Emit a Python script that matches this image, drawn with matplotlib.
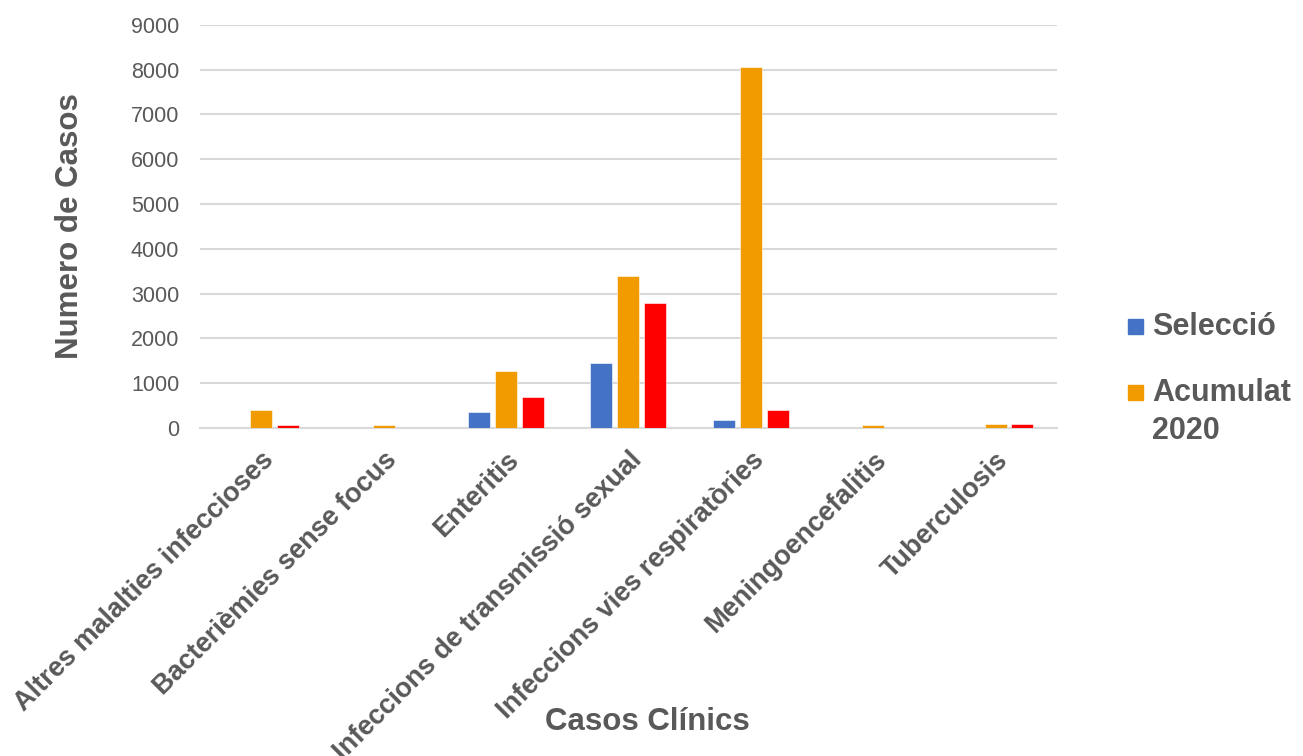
import numpy as np
import matplotlib
matplotlib.use("Agg")
import matplotlib.pyplot as plt
from matplotlib.patches import Rectangle

plt.rcParams['font.family'] = ['Liberation Sans', 'DejaVu Sans']

categories = ["Altres malalties infeccioses", "Bacterièmies sense focus", "Enteritis",
              "Infeccions de transmissió sexual", "Infeccions vies respiratòries",
              "Meningoencefalitis", "Tuberculosis"]
seleccio = [0, 0, 350, 1460, 170, 0, 0]
acumulat = [400, 60, 1260, 3390, 8060, 60, 90]
tercera = [60, 0, 690, 2790, 400, 0, 90]

series_names = ["Selecció", "Acumulat\n2020"]
colors = ["#4472C4", "#F29B00", "#FF0000"]
grey = "#595959"

fig = plt.figure(figsize=(13.03, 7.56), dpi=100)
ax = fig.add_axes([0.1535, 0.434, 0.6575, 0.533])

x = np.arange(len(categories))
w = 0.18
step = 0.22
for i, vals in enumerate([seleccio, acumulat, tercera]):
    ax.bar(x + (i - 1) * step, vals, width=w, color=colors[i],
           edgecolor="white", linewidth=0.4, zorder=3)

ax.set_xlim(-0.5, len(categories) - 0.5)
ax.set_ylim(0, 9000)
ax.set_yticks(np.arange(0, 9001, 1000))
ax.yaxis.grid(True, color="#d9d9d9", linewidth=1.5, zorder=0)
for s in ["top", "right", "left"]:
    ax.spines[s].set_visible(False)
ax.spines["bottom"].set_color("#d9d9d9")
ax.spines["bottom"].set_linewidth(1.5)
ax.tick_params(axis="y", length=0, labelsize=15.5, labelcolor=grey, pad=15)
ax.tick_params(axis="x", length=0, pad=14)
ax.set_xticks(x)
ax.set_xticklabels(categories, rotation=45, ha="right", rotation_mode="anchor",
                   fontsize=19.5, fontweight="bold", color=grey)

ax.set_ylabel("Numero de Casos", fontsize=22.5, fontweight="bold", color=grey, labelpad=33)
fig.text(0.497, 0.045, "Casos Clínics", fontsize=22.5, fontweight="bold", color=grey,
         ha="center", va="center")

# legend (third series label is cut off in the original)
sq = 15 / 1303
fig.add_artist(Rectangle((1128 / 1303, 1 - 334 / 756), sq, 15 / 756,
                         transform=fig.transFigure, color=colors[0]))
fig.text(1152 / 1303, 1 - 327 / 756, series_names[0], fontsize=22, fontweight="bold",
         color=grey, va="center")
fig.add_artist(Rectangle((1128 / 1303, 1 - 400 / 756), sq, 15 / 756,
                         transform=fig.transFigure, color=colors[1]))
fig.text(1152 / 1303, 1 - 378 / 756, series_names[1], fontsize=22, fontweight="bold",
         color=grey, va="top", linespacing=1.35)

fig.savefig("out.png", dpi=100)
